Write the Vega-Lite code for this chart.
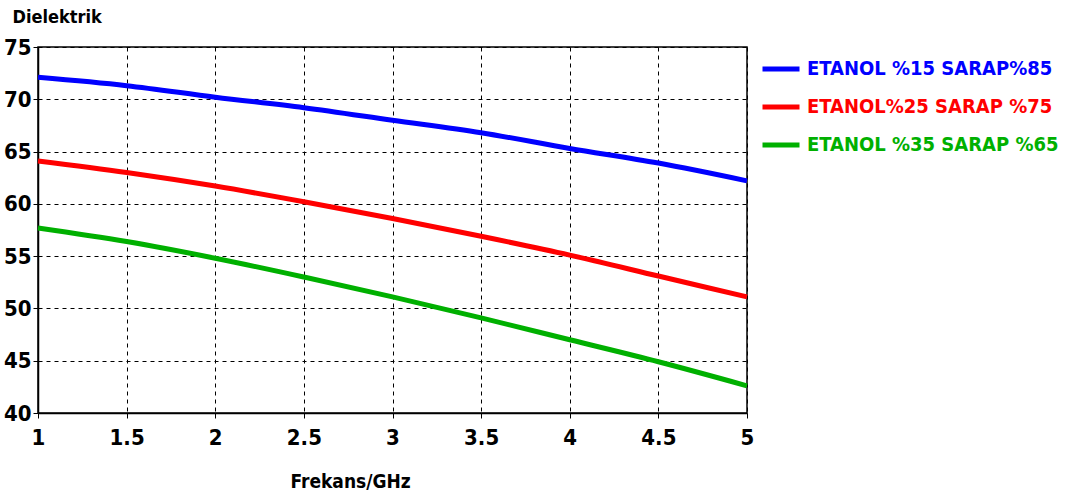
{
  "$schema": "https://vega.github.io/schema/vega-lite/v6.json",
  "width": 709,
  "height": 366,
  "autosize": {"type": "none"},
  "padding": {"left": 38, "top": 47, "right": 323, "bottom": 84},
  "background": "white",
  "config": {
    "view": {"stroke": "#000000", "strokeWidth": 1.5},
    "font": "DejaVu Sans Condensed"
  },
  "data": {
    "values": [
      {"f": 1.0, "d": 72.1, "s": "ETANOL %15 SARAP%85"},
      {"f": 1.5, "d": 71.3, "s": "ETANOL %15 SARAP%85"},
      {"f": 2.0, "d": 70.2, "s": "ETANOL %15 SARAP%85"},
      {"f": 2.5, "d": 69.2, "s": "ETANOL %15 SARAP%85"},
      {"f": 3.0, "d": 68.0, "s": "ETANOL %15 SARAP%85"},
      {"f": 3.5, "d": 66.8, "s": "ETANOL %15 SARAP%85"},
      {"f": 4.0, "d": 65.3, "s": "ETANOL %15 SARAP%85"},
      {"f": 4.5, "d": 63.9, "s": "ETANOL %15 SARAP%85"},
      {"f": 5.0, "d": 62.2, "s": "ETANOL %15 SARAP%85"},
      {"f": 1.0, "d": 64.1, "s": "ETANOL%25 SARAP %75"},
      {"f": 1.5, "d": 63.0, "s": "ETANOL%25 SARAP %75"},
      {"f": 2.0, "d": 61.7, "s": "ETANOL%25 SARAP %75"},
      {"f": 2.5, "d": 60.2, "s": "ETANOL%25 SARAP %75"},
      {"f": 3.0, "d": 58.6, "s": "ETANOL%25 SARAP %75"},
      {"f": 3.5, "d": 56.9, "s": "ETANOL%25 SARAP %75"},
      {"f": 4.0, "d": 55.1, "s": "ETANOL%25 SARAP %75"},
      {"f": 4.5, "d": 53.1, "s": "ETANOL%25 SARAP %75"},
      {"f": 5.0, "d": 51.1, "s": "ETANOL%25 SARAP %75"},
      {"f": 1.0, "d": 57.7, "s": "ETANOL %35 SARAP %65"},
      {"f": 1.5, "d": 56.4, "s": "ETANOL %35 SARAP %65"},
      {"f": 2.0, "d": 54.8, "s": "ETANOL %35 SARAP %65"},
      {"f": 2.5, "d": 53.0, "s": "ETANOL %35 SARAP %65"},
      {"f": 3.0, "d": 51.1, "s": "ETANOL %35 SARAP %65"},
      {"f": 3.5, "d": 49.1, "s": "ETANOL %35 SARAP %65"},
      {"f": 4.0, "d": 47.0, "s": "ETANOL %35 SARAP %65"},
      {"f": 4.5, "d": 44.9, "s": "ETANOL %35 SARAP %65"},
      {"f": 5.0, "d": 42.6, "s": "ETANOL %35 SARAP %65"}
    ]
  },
  "mark": {"type": "line", "strokeWidth": 5, "interpolate": "monotone"},
  "encoding": {
    "x": {
      "field": "f", "type": "quantitative",
      "scale": {"domain": [1, 5], "nice": false, "zero": false},
      "axis": {
        "values": [1, 1.5, 2, 2.5, 3, 3.5, 4, 4.5, 5],
        "format": "~g",
        "title": "Frekans/GHz",
        "titleFont": "DejaVu Sans Condensed", "titleFontSize": 19, "titleFontWeight": "bold", "titleColor": "#000",
        "titleAnchor": "start", "titleAlign": "left", "titleBaseline": "middle", "titleX": 252, "titleY": 68,
        "labelFont": "DejaVu Sans Condensed", "labelFontSize": 22, "labelFontWeight": "bold", "labelColor": "#000",
        "labelPadding": 9, "labelFlush": false, "labelOverlap": false,
        "domainColor": "#000", "domainWidth": 1.5, "tickColor": "#000", "tickSize": 5, "tickWidth": 1,
        "grid": true, "gridColor": "#000", "gridDash": [4, 4], "gridWidth": 1, "gridOpacity": 1
      }
    },
    "y": {
      "field": "d", "type": "quantitative",
      "scale": {"domain": [40, 75], "nice": false, "zero": false},
      "axis": {
        "values": [40, 45, 50, 55, 60, 65, 70, 75],
        "title": "Dielektrik",
        "titleAngle": 0, "titleAnchor": "start", "titleAlign": "left", "titleBaseline": "middle",
        "titleX": -26, "titleY": -30,
        "titleFont": "DejaVu Sans Condensed", "titleFontSize": 18, "titleFontWeight": "bold", "titleColor": "#000",
        "labelFont": "DejaVu Sans Condensed", "labelFontSize": 22, "labelFontWeight": "bold", "labelColor": "#000",
        "labelPadding": 2, "labelOverlap": false,
        "domainColor": "#000", "domainWidth": 1.5, "tickColor": "#000", "tickSize": 5, "tickWidth": 1,
        "grid": true, "gridColor": "#000", "gridDash": [4, 4], "gridWidth": 1, "gridOpacity": 1
      }
    },
    "color": {
      "field": "s", "type": "nominal",
      "scale": {
        "domain": ["ETANOL %15 SARAP%85", "ETANOL%25 SARAP %75", "ETANOL %35 SARAP %65"],
        "range": ["#0000FF", "#FF0000", "#00B000"]
      },
      "legend": {
        "title": null,
        "orient": "none", "legendX": 722, "legendY": 1,
        "symbolType": "stroke", "symbolStrokeWidth": 5, "symbolSize": 1369,
        "labelFont": "DejaVu Sans Condensed", "labelFontSize": 20, "labelFontWeight": "bold",
        "labelOffset": 5, "labelLimit": 400, "rowPadding": 7,
        "encode": {"labels": {"update": {"fill": {"scale": "color", "field": "value"}}}}
      }
    }
  }
}
